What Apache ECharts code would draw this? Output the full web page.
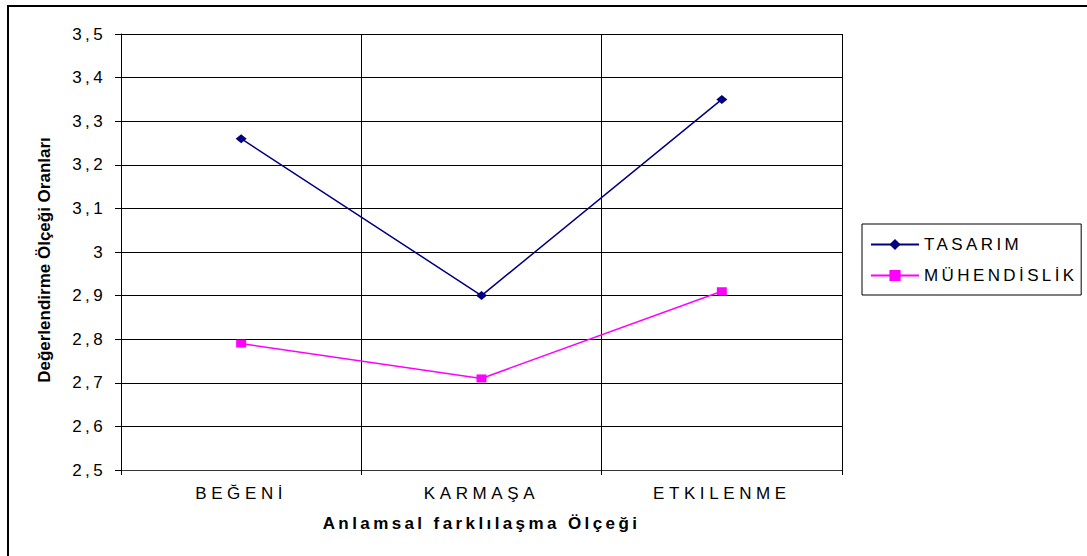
<!DOCTYPE html>
<html>
<head>
<meta charset="utf-8">
<script src="https://cdn.jsdelivr.net/npm/echarts@6/dist/echarts.min.js"></script>
<style>
  html, body { margin: 0; padding: 0; background: #fff; }
  #chart { width: 1087px; height: 556px; }
  /* orijinal grafikte yazılar yatay olarak açık aralıklı */
  #chart svg text { letter-spacing: 3.4px; }
  #chart svg text[style*="Helvetica"],
  #chart svg text[font-family*="Helvetica"] { letter-spacing: 4.6px; }
  #chart svg text[style*="Arial"],
  #chart svg text[font-family*="Arial"] { letter-spacing: 0; }
</style>
</head>
<body>
<div id="chart"></div>
<script>
// kategoriler ve seriler
const categories = ['BEĞENİ', 'KARMAŞA', 'ETKILENME'];
const tasarim = [3.26, 2.90, 3.35];
const muhendislik = [2.79, 2.71, 2.91];
const yTicks = { min: 2.5, max: 3.5, step: 0.1 };

const chart = echarts.init(document.getElementById('chart'), null, { renderer: 'svg' });
const font = 'Liberation Sans, sans-serif';

chart.setOption({
  animation: false,
  backgroundColor: '#fff',
  graphic: [
    // dış çerçeve
    { type: 'rect', shape: { x: 8, y: 6, width: 1200, height: 700 },
      style: { fill: 'none', stroke: '#000', lineWidth: 2 } }
  ],
  grid: { left: 121, right: 245, top: 34, bottom: 86 },
  legend: {
    orient: 'vertical',
    left: 862,
    top: 224,
    padding: [12, 41, 11, 8],
    itemGap: 14,
    itemWidth: 48,
    itemHeight: 14,
    borderColor: '#000',
    borderWidth: 1,
    borderRadius: 0,
    textStyle: { fontFamily: font, fontSize: 17, color: '#000' },
    data: ['TASARIM', 'MÜHENDİSLİK']
  },
  xAxis: {
    type: 'category',
    data: categories,
    boundaryGap: true,
    name: 'Anlamsal farklılaşma Ölçeği',
    nameLocation: 'middle',
    nameGap: 45,
    nameTextStyle: { fontFamily: font, fontSize: 17, fontWeight: 'bold', color: '#000' },
    axisLine: { lineStyle: { color: '#333', width: 1 } },
    axisTick: { show: true, length: 5, lineStyle: { color: '#000' } },
    axisLabel: { fontFamily: 'Helvetica, Liberation Sans, sans-serif', fontSize: 17, color: '#000', margin: 15 },
    splitLine: { show: true, lineStyle: { color: '#000', width: 1 } }
  },
  yAxis: {
    type: 'value',
    min: yTicks.min,
    max: yTicks.max,
    interval: yTicks.step,
    name: 'Değerlendirme Ölçeği Oranları',
    nameLocation: 'middle',
    nameGap: 68,
    nameTextStyle: {
      fontFamily: 'Arial, Liberation Sans, sans-serif', fontSize: 17, fontWeight: 'bold',
      color: '#000', padding: [0, 16, 0, 0]
    },
    axisLine: { show: true, lineStyle: { color: '#000', width: 1 } },
    axisTick: { show: true, length: 6, lineStyle: { color: '#000' } },
    axisLabel: {
      fontFamily: font, fontSize: 17, color: '#000', margin: 15,
      formatter: v => String(Math.round(v * 10) / 10).replace('.', ',')
    },
    splitLine: { show: true, lineStyle: { color: '#000', width: 1 } }
  },
  series: [
    {
      name: 'TASARIM',
      type: 'line',
      data: tasarim,
      symbol: 'diamond',
      symbolSize: [11, 9],
      color: '#000080',
      lineStyle: { width: 1.5, color: '#000080' },
      itemStyle: { color: '#000080' }
    },
    {
      name: 'MÜHENDİSLİK',
      type: 'line',
      data: muhendislik,
      symbol: 'rect',
      symbolSize: [10, 8],
      color: '#FF00FF',
      lineStyle: { width: 1.5, color: '#FF00FF' },
      itemStyle: { color: '#FF00FF' }
    }
  ]
});
</script>
</body>
</html>
